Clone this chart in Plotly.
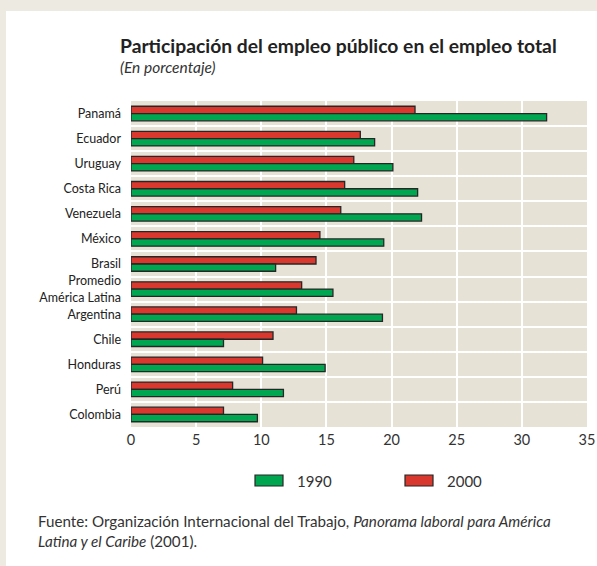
import plotly.graph_objects as go

# Public employment as a share of total employment (%)
paises = ["Panamá", "Ecuador", "Uruguay", "Costa Rica", "Venezuela", "México",
          "Brasil", "Promedio<br>América Latina", "Argentina", "Chile",
          "Honduras", "Perú", "Colombia"]
valores_1990 = [31.9, 18.7, 20.1, 22.0, 22.3, 19.4, 11.1, 15.5, 19.3, 7.1, 14.9, 11.7, 9.7]
valores_2000 = [21.8, 17.6, 17.1, 16.4, 16.1, 14.5, 14.2, 13.1, 12.7, 10.9, 10.1, 7.8, 7.1]
ticks_x = [0, 5, 10, 15, 20, 25, 30, 35]

VERDE = "#00A650"
ROJO = "#D9382E"
BORDE = "#262626"
FONDO = "#EDEBE1"
FONDO_PLOT = "#E6E3D6"
FUENTE = "Lato, 'Open Sans', sans-serif"

W, H = 597, 566
L, R, T, B = 131, 10, 101, 139

fig = go.Figure()
# 2000 first so it sits above 1990 inside each group (reversed axis)
fig.add_trace(go.Bar(y=paises, x=valores_2000, orientation="h", name="2000",
                     marker=dict(color=ROJO, line=dict(color=BORDE, width=1.3))))
fig.add_trace(go.Bar(y=paises, x=valores_1990, orientation="h", name="1990",
                     marker=dict(color=VERDE, line=dict(color=BORDE, width=1.3))))

fig.update_layout(
    width=W, height=H,
    margin=dict(l=L, r=R, t=T, b=B, autoexpand=False),
    paper_bgcolor="white",
    plot_bgcolor=FONDO_PLOT,
    barmode="group",
    bargap=0.42,
    bargroupgap=0.0,
    showlegend=False,
    font=dict(family=FUENTE, color="#333333"),
    xaxis=dict(range=[0, 35], tickvals=ticks_x, showgrid=True, gridcolor="white",
               gridwidth=2, zeroline=False, showline=False, ticks="", automargin=False,
               tickfont=dict(size=14.5, color="#333333"), ticklabelstandoff=2),
    yaxis=dict(type="category", autorange="reversed", tickson="boundaries",
               showgrid=True, gridcolor="white", gridwidth=2, ticks="", automargin=False,
               showline=False, zeroline=False,
               tickfont=dict(size=12.5, color="#222222"), ticklabelstandoff=9),
)

def px_x(px):
    return (px - L) / (W - L - R)

def px_y(py):
    return 1 - (py - T) / (H - T - B)

# Beige frame strips (left and top) around the white card
fig.add_shape(type="rect", xref="paper", yref="paper", layer="below",
              x0=px_x(0), x1=px_x(6), y0=px_y(H), y1=px_y(0),
              fillcolor=FONDO, line=dict(width=0))
fig.add_shape(type="rect", xref="paper", yref="paper", layer="below",
              x0=px_x(0), x1=px_x(W), y0=px_y(11), y1=px_y(0),
              fillcolor=FONDO, line=dict(width=0))

# Title and subtitle
fig.add_annotation(xref="paper", yref="paper", x=px_x(118), y=px_y(45),
                   xanchor="left", yanchor="middle", showarrow=False,
                   text="<b>Participación del empleo público en el empleo total</b>",
                   font=dict(size=19.3, color="#222222", family=FUENTE))
fig.add_annotation(xref="paper", yref="paper", x=px_x(118), y=px_y(67),
                   xanchor="left", yanchor="middle", showarrow=False,
                   text="<i>(En porcentaje)</i>",
                   font=dict(size=15.5, color="#333333", family=FUENTE))

# Legend
for x0, color, label in [(255, VERDE, "1990"), (405, ROJO, "2000")]:
    fig.add_shape(type="rect", xref="paper", yref="paper",
                  x0=px_x(x0), x1=px_x(x0 + 28), y0=px_y(486), y1=px_y(475),
                  fillcolor=color, line=dict(color=BORDE, width=1.2))
    fig.add_annotation(xref="paper", yref="paper", x=px_x(x0 + 40), y=px_y(480.5),
                       xanchor="left", yanchor="middle", showarrow=False,
                       text=label, font=dict(size=15, color="#333333", family=FUENTE))

# Source note
fig.add_annotation(xref="paper", yref="paper", x=px_x(36), y=px_y(531),
                   xanchor="left", yanchor="middle", showarrow=False, align="left",
                   text="Fuente: Organización Internacional del Trabajo, "
                        "<i>Panorama laboral para América</i><br>"
                        "<i>Latina y el Caribe</i> (2001).",
                   font=dict(size=15.2, color="#333333", family=FUENTE))

fig.write_html("out.html")
